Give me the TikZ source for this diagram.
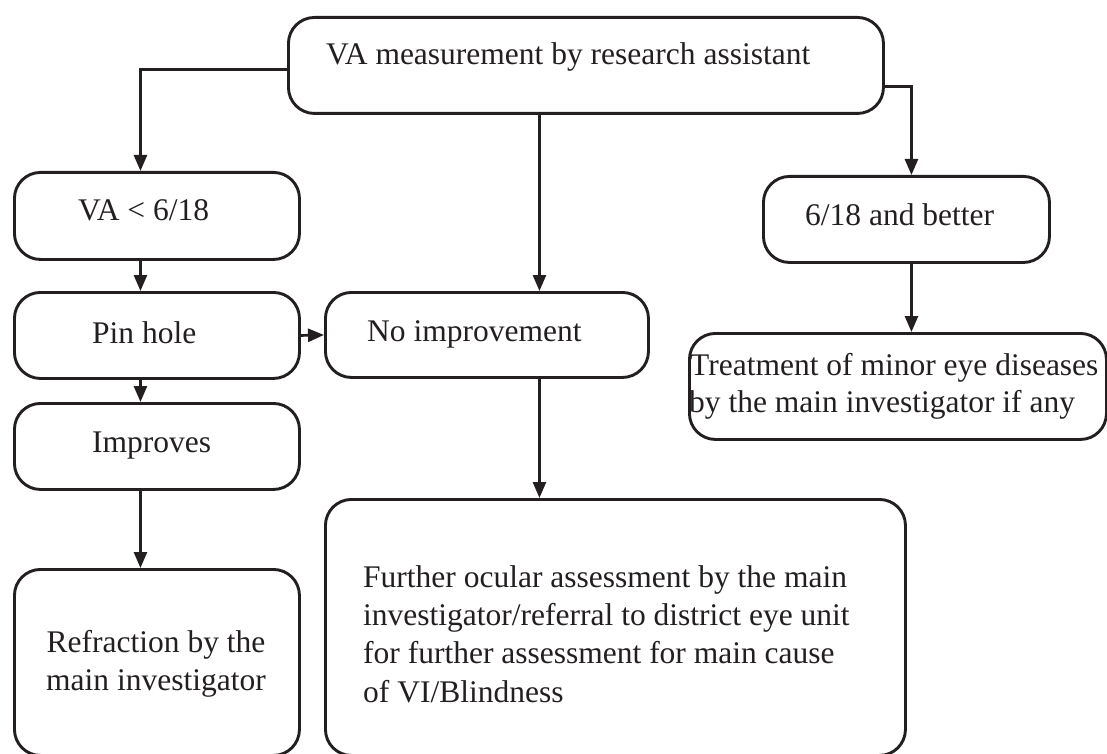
\documentclass[tikz,border=0pt]{standalone}
\usepackage{fontspec}
\setmainfont{Liberation Serif}
\usetikzlibrary{arrows.meta}
\definecolor{ink}{HTML}{231F20}
\begin{document}
\begin{tikzpicture}[x=1pt,y=-1pt,
  box/.style={draw=ink, line width=2.9pt, rounded corners=26pt, anchor=north west, inner sep=0pt},
  txt/.style={text=ink, inner sep=0pt, font=\fontsize{31.5}{38}\selectfont},
  arr/.style={draw=ink, line width=2.7pt, -{Triangle[width=13pt,length=16pt]}}]
\useasboundingbox (0,0) rectangle (1107,754);
\clip (0,0) rectangle (1107,754);
% boxes
\node[box, minimum width=595pt, minimum height=96pt] (top) at (287,16) {};
\node[box, minimum width=285pt, minimum height=87pt] (va) at (13,171) {};
\node[box, minimum width=285pt, minimum height=86pt] (pin) at (13,291) {};
\node[box, minimum width=285pt, minimum height=86pt] (imp) at (13,402) {};
\node[box, minimum width=285pt, minimum height=186pt] (ref) at (13,568) {};
\node[box, minimum width=323pt, minimum height=85pt] (ni) at (324,291) {};
\node[box, minimum width=580pt, minimum height=256pt] (fur) at (324,498) {};
\node[box, minimum width=286pt, minimum height=86pt] (b618) at (762,175) {};
\node[box, minimum width=417pt, minimum height=106pt] (treat) at (688,332) {};
% texts
\node[txt, anchor=base west] (ttop) at (326,65) {VA measurement by research assistant};
\node[txt, anchor=base west] (tva) at (78,220) {VA < 6/18};
\node[txt, anchor=base west] (tpin) at (92,343) {Pin hole};
\node[txt, anchor=base west] (timp) at (92,452) {Improves};
\node[txt, anchor=base west] (tni) at (367,341) {No improvement};
\node[txt, anchor=base west] (t618) at (805,225) {6/18 and better};
\node[txt, anchor=base west] (ttreat1) at (690,375) {Treatment of minor eye diseases};
\node[txt, anchor=base west] (ttreat2) at (689,412) {by the main investigator if any};
\node[txt, anchor=base] (tref1) at (156,652) {Refraction by the};
\node[txt, anchor=base] (tref2) at (156,690) {main investigator};
\node[txt, anchor=base west] (tfur1) at (363,587) {Further ocular assessment by the main};
\node[txt, anchor=base west] (tfur2) at (363,625) {investigator/referral to district eye unit};
\node[txt, anchor=base west] (tfur3) at (363,663) {for further assessment for main cause};
\node[txt, anchor=base west] (tfur4) at (363,702) {of VI/Blindness};
% connectors
\draw[arr] ([yshift=-4pt]top.west) -| ([xshift=-16.5pt]va.north);
\draw[arr] ([yshift=-21pt]top.east) -| ([xshift=5pt]b618.north);
\draw[arr] ([xshift=52.5pt]ni.north |- top.south) -- ([xshift=52.5pt]ni.north);
\draw[arr] ([xshift=-16.5pt]va.south) -- ([xshift=-16.5pt]pin.north);
\draw[arr] ([xshift=-16.5pt]pin.south) -- ([xshift=-16.5pt]imp.north);
\draw[arr] ([xshift=-16.5pt]imp.south) -- ([xshift=-16.5pt]ref.north);
\draw[arr] (pin.east) -- (ni.west);
\draw[arr] ([xshift=52.5pt]ni.south) -- ([xshift=52.5pt]ni.south |- fur.north);
\draw[arr] ([xshift=5pt]b618.south) -- ([xshift=5pt]b618.south |- treat.north);
\end{tikzpicture}
\end{document}
